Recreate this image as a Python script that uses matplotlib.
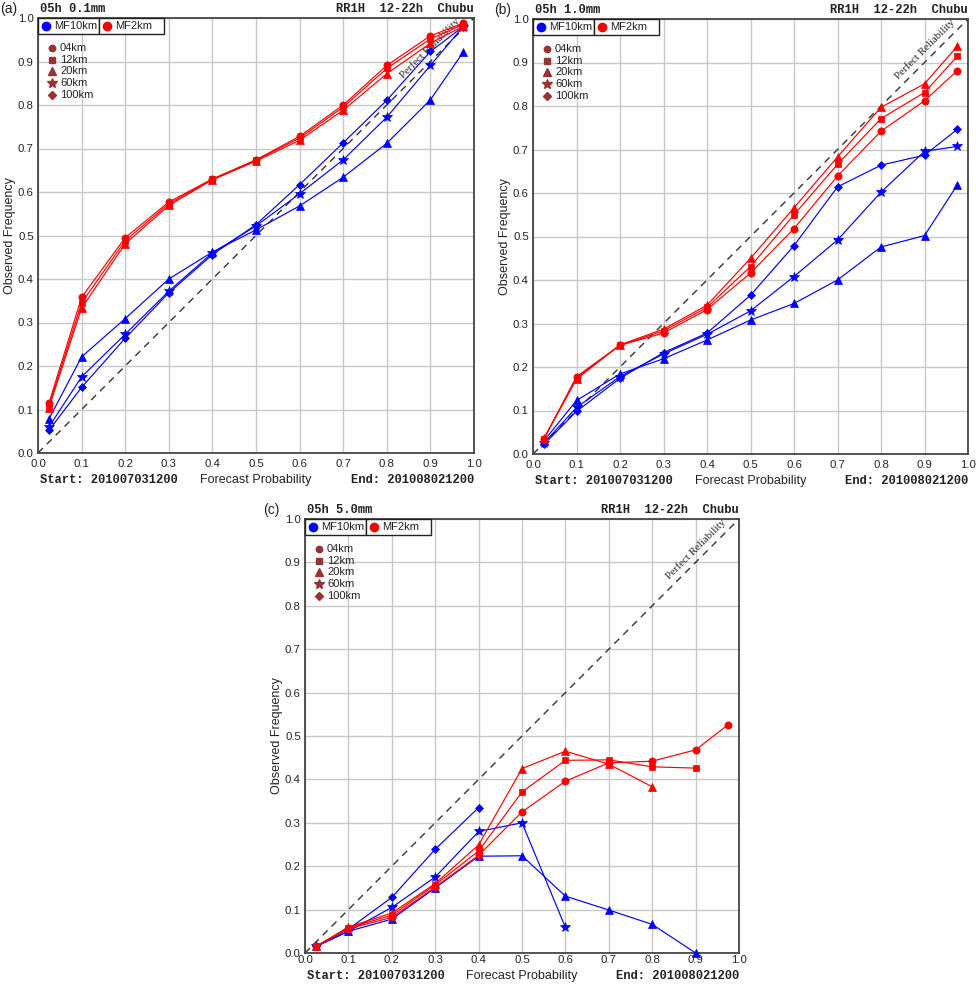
import matplotlib
matplotlib.use("Agg")
import matplotlib.pyplot as plt
from matplotlib.patches import Rectangle
from matplotlib.lines import Line2D

# ---------------- data ----------------
prob = [0.025, 0.1, 0.2, 0.3, 0.4, 0.5, 0.6, 0.7, 0.8, 0.9, 0.975]
scales = ["04km", "12km", "20km", "60km", "100km"]
scale_markers = ["o", "s", "^", "*", "D"]

# Panel (a) 0.1mm
a_mf2_04 = [0.114, 0.358, 0.495, 0.577, 0.630, 0.674, 0.728, 0.800, 0.891, 0.959, 0.988]
a_mf2_12 = [0.108, 0.345, 0.488, 0.573, 0.629, 0.673, 0.724, 0.795, 0.884, 0.952, 0.985]
a_mf2_20 = [0.104, 0.333, 0.481, 0.569, 0.628, 0.671, 0.719, 0.788, 0.872, 0.942, 0.981]
a_mf10_20 = [0.078, 0.221, 0.309, 0.400, 0.462, 0.513, 0.568, 0.634, 0.712, 0.812, 0.921]
a_mf10_60 = [0.060, 0.175, 0.273, 0.372, 0.460, 0.522, 0.596, 0.674, 0.772, 0.891, 0.980]
a_mf10_100 = [0.052, 0.151, 0.264, 0.368, 0.456, 0.525, 0.617, 0.713, 0.811, 0.923, 0.980]

# Panel (b) 1.0mm
b_mf2_04 = [0.034, 0.178, 0.250, 0.278, 0.332, 0.416, 0.518, 0.639, 0.742, 0.812, 0.881]
b_mf2_12 = [0.035, 0.175, 0.250, 0.283, 0.337, 0.431, 0.550, 0.666, 0.771, 0.831, 0.914]
b_mf2_20 = [0.036, 0.172, 0.251, 0.287, 0.342, 0.450, 0.566, 0.683, 0.797, 0.851, 0.937]
b_mf10_20 = [0.030, 0.123, 0.184, 0.219, 0.262, 0.308, 0.346, 0.400, 0.476, 0.502, 0.618]
b_mf10_60 = [0.025, 0.107, 0.178, 0.230, 0.275, 0.329, 0.408, 0.492, 0.602, 0.696, 0.707]
b_mf10_100 = [0.022, 0.098, 0.174, 0.233, 0.278, 0.365, 0.479, 0.614, 0.664, 0.687, 0.746]

# Panel (c) 5.0mm
c_mf2_04 = [0.015, 0.056, 0.082, 0.152, 0.225, 0.325, 0.396, 0.438, 0.442, 0.468, 0.526]
c_mf2_12 = [0.015, 0.058, 0.087, 0.157, 0.235, 0.371, 0.444, 0.445, 0.429, 0.426]
c_mf2_20 = [0.015, 0.060, 0.092, 0.160, 0.249, 0.425, 0.465, 0.435, 0.383]
c_mf10_20 = [0.015, 0.050, 0.078, 0.150, 0.223, 0.224, 0.131, 0.099, 0.066, 0.0]
c_mf10_60 = [0.015, 0.050, 0.105, 0.175, 0.280, 0.300, 0.059]
c_mf10_100 = [0.015, 0.055, 0.128, 0.239, 0.335]

panels = [
    dict(label="(a)", thr="05h 0.1mm",
         mf2=[a_mf2_04, a_mf2_12, a_mf2_20], mf10=[a_mf10_20, a_mf10_60, a_mf10_100]),
    dict(label="(b)", thr="05h 1.0mm",
         mf2=[b_mf2_04, b_mf2_12, b_mf2_20], mf10=[b_mf10_20, b_mf10_60, b_mf10_100]),
    dict(label="(c)", thr="05h 5.0mm",
         mf2=[c_mf2_04, c_mf2_12, c_mf2_20], mf10=[c_mf10_20, c_mf10_60, c_mf10_100]),
]
mf2_markers = ["o", "s", "^"]
mf10_markers = ["^", "*", "D"]
ticks = [0.0, 0.1, 0.2, 0.3, 0.4, 0.5, 0.6, 0.7, 0.8, 0.9, 1.0]
tick_labels = ["0.0", "0.1", "0.2", "0.3", "0.4", "0.5", "0.6", "0.7", "0.8", "0.9", "1.0"]
start_txt = "Start: 201007031200"
end_txt = "End: 201008021200"
region_txt = "RR1H  12-22h  Chubu"

BLUE = "#0000ff"
RED = "#ff0000"
BROWN = "#993333"
W, H = 976, 985

fig = plt.figure(figsize=(W / 100, H / 100), dpi=100)
plt.rcParams['font.family'] = ['Liberation Sans', 'DejaVu Sans']

# (left, top, width, height, tick pad, bottom-row offset, panel-label offset) in pixels
rects = [(38, 18, 436, 435, 4.5, 27, 38),
         (533, 19, 435, 435, 4.5, 27, 39),
         (305, 519, 434, 434, 1.5, 23, 42)]

mono = dict(family="Liberation Mono", weight="bold", fontsize=8.7, color="#222222")
MS = {"*": 7.5, "D": 4.2, "^": 5.5, "s": 4.8, "o": 5.2}
LMS = {"*": 7.0, "D": 4.0, "^": 5.2, "s": 4.3, "o": 4.6}

for p, (px, py, pw, ph, xpad, brow, lpad) in zip(panels, rects):
    ax = fig.add_axes([px / W, 1 - (py + ph) / H, pw / W, ph / H])
    ax.set_xlim(0, 1)
    ax.set_ylim(0, 1)
    ax.set_xticks(ticks)
    ax.set_yticks(ticks)
    ax.set_xticklabels(tick_labels)
    ax.set_yticklabels(tick_labels)
    ax.tick_params(length=0, labelsize=8.2, colors="#222222")
    ax.tick_params(axis="x", pad=xpad)
    ax.tick_params(axis="y", pad=3)
    ax.grid(True, color="#c8c8c8", linewidth=1.0)
    ax.set_axisbelow(True)
    for s in ax.spines.values():
        s.set_color("#444444")
        s.set_linewidth(1.3)
    ax.plot([0, 1], [0, 1], linestyle=(0, (5, 4)), color="#333333", linewidth=1.0, zorder=2)
    ax.text(0.9, 0.93, "Perfect Reliability", rotation=45, ha="center", va="center",
            family="Liberation Serif", fontsize=7.8, color="#222222", zorder=3)

    for ys, m in zip(p["mf10"], mf10_markers):
        ax.plot(prob[:len(ys)], ys, color=BLUE, linewidth=0.85, marker=m,
                markersize=MS[m], markeredgewidth=0.5, zorder=4, clip_on=False)
    for ys, m in zip(p["mf2"], mf2_markers):
        ax.plot(prob[:len(ys)], ys, color=RED, linewidth=0.85, marker=m,
                markersize=MS[m], markeredgewidth=0.5, zorder=5, clip_on=False)

    ax.set_xlabel("Forecast Probability", fontsize=9, color="#222222", va="center")
    ax.xaxis.set_label_coords(0.5, -brow / ph)
    ax.set_ylabel("Observed Frequency", fontsize=9, color="#222222", va="center")
    ax.yaxis.set_label_coords(-28 / pw, 0.5)

    # titles
    ax.text(0.005, 1 + 9 / ph, p["thr"], transform=ax.transAxes, ha="left", va="center", **mono)
    ax.text(1.0, 1 + 9 / ph, region_txt, transform=ax.transAxes, ha="right", va="center", **mono)
    ax.text(0.005, -brow / ph, start_txt, transform=ax.transAxes, ha="left", va="center", **mono)
    ax.text(1.0, -brow / ph, end_txt, transform=ax.transAxes, ha="right", va="center", **mono)
    ax.text(-lpad / pw, 1 + 9 / ph, p["label"], transform=ax.transAxes, ha="left", va="center",
            fontsize=10, color="#222222")

    # model legend box
    bh = 16 / ph
    boxes = [(0.0, 61 / pw, BLUE, "MF10km"), (61 / pw, 65 / pw, RED, "MF2km")]
    for x0, w, col, lab in boxes:
        ax.add_patch(Rectangle((x0, 1 - bh), w, bh, transform=ax.transAxes,
                               facecolor="white", edgecolor="#222222", linewidth=1.0,
                               zorder=6, clip_on=False))
        ax.add_line(Line2D([x0 + 8 / pw], [1 - bh / 2], transform=ax.transAxes,
                           marker="o", markersize=6.0, color=col, linestyle="none", zorder=7))
        ax.text(x0 + 16 / pw, 1 - bh / 2, lab, transform=ax.transAxes, ha="left",
                va="center", fontsize=8, color="#222222", zorder=7)

    # scale legend
    for i, (lab, m) in enumerate(zip(scales, scale_markers)):
        yy = 1 - (30 + 11.7 * i) / ph
        ax.add_line(Line2D([14 / pw], [yy], transform=ax.transAxes, marker=m,
                           markersize=LMS[m], color=BROWN, linestyle="none", zorder=7))
        ax.text(22 / pw, yy, lab, transform=ax.transAxes, ha="left", va="center",
                fontsize=8, color="#222222", zorder=7)

fig.savefig("out.png", dpi=100)
